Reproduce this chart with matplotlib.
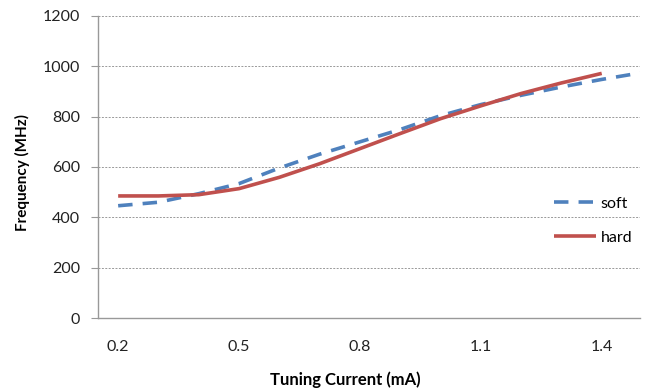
import matplotlib
matplotlib.use("Agg")
import matplotlib.pyplot as plt
import numpy as np

current = [0.2, 0.3, 0.4, 0.5, 0.6, 0.7, 0.8, 0.9, 1.0, 1.1, 1.2, 1.3, 1.4, 1.5]
soft = [446, 460, 494, 534, 596, 651, 700, 749, 804, 848, 885, 918, 948, 975]
hard = [485, 485, 490, 514, 559, 613, 673, 733, 792, 843, 892, 934, 972]
tick_labels = ["0.2", "0.5", "0.8", "1.1", "1.4"]
yticks = [0, 200, 400, 600, 800, 1000, 1200]

plt.rcParams['font.family'] = ['Lato', 'DejaVu Sans']

fig = plt.figure(figsize=(6.54, 3.91), dpi=100)
ax = fig.add_axes([98/654, 1-318/391, (640-98)/654, (318-16)/391])

xs = np.arange(len(soft))
xh = np.arange(len(hard))
ax.plot(xs, soft, color='#4F81BD', lw=2.6, dashes=(4, 2.8), label='soft', zorder=3)
ax.plot(xh, hard, color='#C0504D', lw=2.6, label='hard', zorder=3, solid_capstyle='butt')

ax.set_ylim(0, 1200)
ax.set_xlim(-0.5, 12.95)
ax.set_yticks(yticks)
ax.set_yticklabels([str(v) for v in yticks], fontsize=11.5, color='#222222')
tick_pos = [current.index(float(t)) for t in tick_labels]
ax.set_xticks(tick_pos)
ax.set_xticklabels(tick_labels, fontsize=11.5, color='#222222')
ax.tick_params(axis='x', length=0, pad=15.5)
ax.tick_params(axis='y', length=5, color='#999999', width=0.8, pad=8)

ax.grid(axis='y', color='#999999', linestyle=(0, (2, 1.5)), linewidth=0.7)
ax.set_axisbelow(True)
for s in ['top', 'right']:
    ax.spines[s].set_visible(False)
for s in ['left', 'bottom']:
    ax.spines[s].set_color('#999999')
    ax.spines[s].set_linewidth(1.0)

fig.text(345/654, 1-380/391, 'Tuning Current (mA)', fontsize=12, fontweight='bold',
         ha='center', va='center')
fig.text(22/654, 1-173/391, 'Frequency (MHz)', fontsize=11, fontweight='bold',
         ha='center', va='center', rotation=90)

leg = ax.legend(loc='upper left', bbox_to_anchor=((548-98)/542, (318-190)/302),
                frameon=False, fontsize=11.5, handlelength=2.6, handletextpad=0.3,
                labelspacing=1.25, borderaxespad=0)

fig.savefig('out.png', dpi=100)
